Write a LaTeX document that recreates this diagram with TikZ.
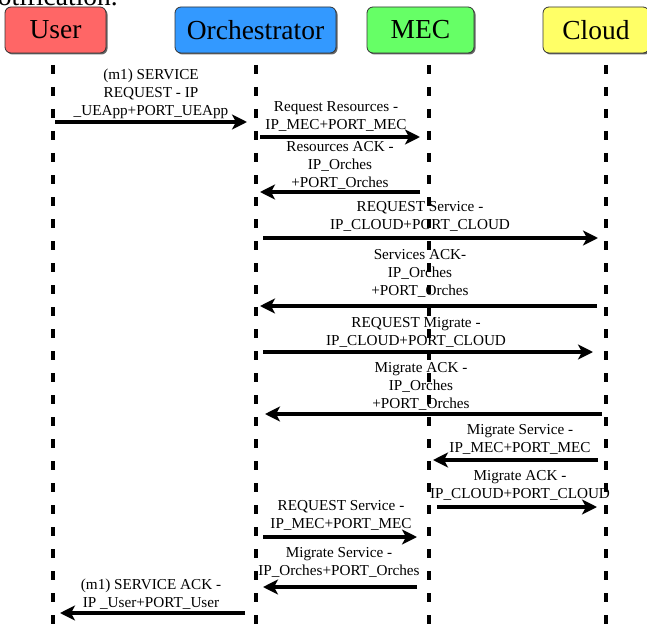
\documentclass[tikz,border=0pt]{standalone}
\usepackage{fontspec}
\setmainfont{Liberation Serif}
\usetikzlibrary{arrows.meta,shadows}

\begin{document}
\begin{tikzpicture}[x=1pt,y=-1pt,
  actor/.style={draw=black!80, line width=0.8pt, rounded corners=6pt,
    minimum height=46pt, inner sep=0pt,
    font=\fontsize{27.5}{30}\selectfont,
    drop shadow={shadow xshift=1.5pt, shadow yshift=-1.5pt, fill=black!60, opacity=1}},
  lifeline/.style={line width=4pt, dash pattern=on 9pt off 13pt},
  msg/.style={line width=4pt, -{Stealth[length=15pt,width=15pt,inset=4pt]}},
  lbl/.style={align=center, inner sep=0pt, font=\fontsize{15.2}{18}\selectfont}
]
\useasboundingbox (0,0) rectangle (647,631);

% tail of the preceding sentence
\node[anchor=base east, inner sep=0pt, font=\fontsize{27.5}{30}\selectfont] (prev) at (118,6) {notification.};

% participants
\definecolor{userc}{HTML}{FF6666}
\definecolor{orchc}{HTML}{3399FF}
\definecolor{mecc}{HTML}{66FF66}
\definecolor{cloudc}{HTML}{FFFF66}
\node[actor, fill=userc,  minimum width=101pt] (user)  at (55.5,30) {User};
\node[actor, fill=orchc,  minimum width=161pt] (orch)  at (255.5,30) {Orchestrator};
\node[actor, fill=mecc,   minimum width=107pt] (mec)   at (420.5,30) {MEC};
\node[actor, fill=cloudc, minimum width=106pt] (cloud) at (596,30) {Cloud};

% lifelines
\coordinate (uT) at (53,65);  \coordinate (uB) at (53,645);
\coordinate (oT) at (256,65); \coordinate (oB) at (256,645);
\coordinate (mT) at (429,65); \coordinate (mB) at (429,645);
\coordinate (cT) at (606,65); \coordinate (cB) at (606,645);
\draw[lifeline] (uT) -- (uB);
\draw[lifeline] (oT) -- (oB);
\draw[lifeline] (mT) -- (mB);
\draw[lifeline] (cT) -- (cB);

% message end points
\coordinate (a1s) at (55,122);  \coordinate (a1e) at (247,122);
\coordinate (a2s) at (260,137); \coordinate (a2e) at (420,137);
\coordinate (a3s) at (420,192); \coordinate (a3e) at (260,192);
\coordinate (a4s) at (263,238); \coordinate (a4e) at (598,238);
\coordinate (a5s) at (597,306); \coordinate (a5e) at (260,306);
\coordinate (a6s) at (263,352); \coordinate (a6e) at (593,352);
\coordinate (a7s) at (602,414); \coordinate (a7e) at (265,414);
\coordinate (a8s) at (598,460); \coordinate (a8e) at (433,460);
\coordinate (a9s) at (437,507); \coordinate (a9e) at (597,507);
\coordinate (a10s) at (263,537); \coordinate (a10e) at (417,537);
\coordinate (a11s) at (417,587); \coordinate (a11e) at (263,587);
\coordinate (a12s) at (245,613); \coordinate (a12e) at (60,613);

\foreach \i in {1,...,12} \draw[msg] (a\i s) -- (a\i e);

% message labels
\node[lbl] (l1)  at (151,93.5)  {(m1) SERVICE\\REQUEST - IP\\\_UEApp+PORT\_UEApp};
\node[lbl] (l2)  at (336,116.5) {Request Resources -\\IP\_MEC+PORT\_MEC};
\node[lbl] (l3)  at (340,165)   {Resources ACK -\\IP\_Orches\\+PORT\_Orches};
\node[lbl] (l4)  at (420,216)   {REQUEST Service -\\IP\_CLOUD+PORT\_CLOUD};
\node[lbl] (l5)  at (420,273.5) {Services ACK-\\IP\_Orches\\+PORT\_Orches};
\node[lbl] (l6)  at (416,332)   {REQUEST Migrate -\\IP\_CLOUD+PORT\_CLOUD};
\node[lbl] (l7)  at (421,386)   {Migrate ACK -\\IP\_Orches\\+PORT\_Orches};
\node[lbl] (l8)  at (520,439.5) {Migrate Service -\\IP\_MEC+PORT\_MEC};
\node[lbl] (l9)  at (520,485.5) {Migrate ACK -\\IP\_CLOUD+PORT\_CLOUD};
\node[lbl] (l10) at (341,515.5) {REQUEST Service -\\IP\_MEC+PORT\_MEC};
\node[lbl] (l11) at (339,562)   {Migrate Service -\\IP\_Orches+PORT\_Orches};
\node[lbl] (l12) at (151,594)   {(m1) SERVICE ACK -\\IP \_User+PORT\_User};
\end{tikzpicture}
\end{document}
